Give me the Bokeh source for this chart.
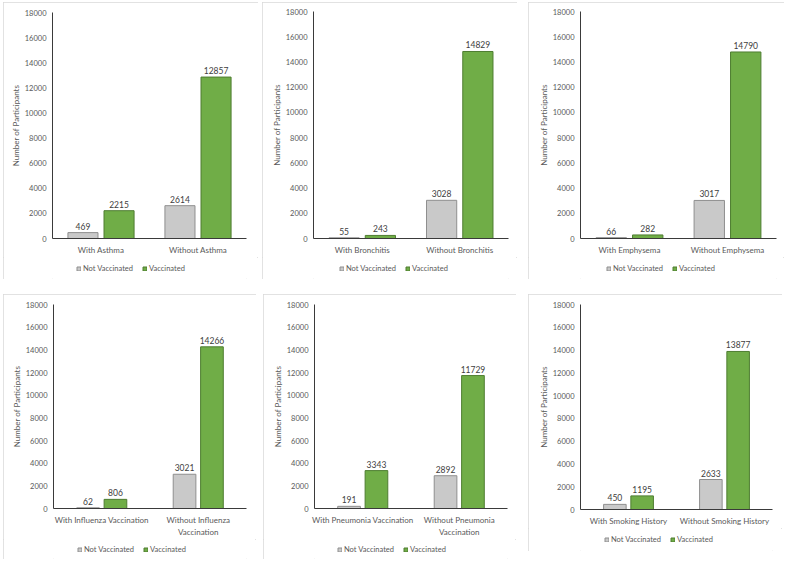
from bokeh.plotting import figure
from bokeh.models import ColumnDataSource, FactorRange, Range1d, FixedTicker, Legend, LegendItem
from bokeh.transform import dodge
from bokeh.layouts import row, column
from bokeh.core.properties import value
from bokeh.embed import file_html
from bokeh.resources import INLINE

FONT = "Lato"
GRAY_FILL = "#c9c9c9"
GRAY_EDGE = "#8f8f8f"
GREEN_FILL = "#70ad47"
GREEN_EDGE = "#4e7d31"
AXIS_TEXT = "#595959"
LABEL_TEXT = "#404040"

series_names = ["Not Vaccinated", "Vaccinated"]
y_ticks = [0, 2000, 4000, 6000, 8000, 10000, 12000, 14000, 16000, 18000]

asthma_groups = ["With Asthma", "Without Asthma"]
asthma_not_vacc = [469, 2614]
asthma_vacc = [2215, 12857]

bronchitis_groups = ["With Bronchitis", "Without Bronchitis"]
bronchitis_not_vacc = [55, 3028]
bronchitis_vacc = [243, 14829]

emphysema_groups = ["With Emphysema", "Without Emphysema"]
emphysema_not_vacc = [66, 3017]
emphysema_vacc = [282, 14790]

influenza_groups = ["With Influenza Vaccination", "Without Influenza\nVaccination"]
influenza_not_vacc = [62, 3021]
influenza_vacc = [806, 14266]

pneumonia_groups = ["With Pneumonia Vaccination", "Without Pneumonia\nVaccination"]
pneumonia_not_vacc = [191, 2892]
pneumonia_vacc = [3343, 11729]

smoking_groups = ["With Smoking History", "Without Smoking History"]
smoking_not_vacc = [450, 2633]
smoking_vacc = [1195, 13877]


def bar_chart(groups, not_vacc, vacc, width, height, borders, bar_w, offset):
    left, right, top, bottom = borders
    p = figure(
        width=width, height=height,
        x_range=FactorRange(factors=groups), y_range=Range1d(0, 18000),
        output_backend="svg", toolbar_location=None,
        min_border_left=left, min_border_right=right,
        min_border_top=top, min_border_bottom=bottom,
    )
    p.outline_line_color = None
    p.xgrid.visible = False
    p.ygrid.visible = False

    src = ColumnDataSource(dict(
        group=groups, nv=not_vacc, v=vacc,
        nv_lbl=[str(n) for n in not_vacc], v_lbl=[str(n) for n in vacc],
    ))
    x_nv = dodge("group", -offset, range=p.x_range)
    x_v = dodge("group", offset, range=p.x_range)
    p.vbar(x=x_nv, top="nv", width=bar_w, source=src,
           fill_color=GRAY_FILL, line_color=GRAY_EDGE, line_width=1)
    p.vbar(x=x_v, top="v", width=bar_w, source=src,
           fill_color=GREEN_FILL, line_color=GREEN_EDGE, line_width=1)

    # value labels above each bar
    for xs, col in ((x_nv, "nv"), (x_v, "v")):
        p.text(x=xs, y=col, text=col + "_lbl", source=src,
               text_align="center", text_baseline="bottom", y_offset=-3,
               text_font=value(FONT), text_font_size="8.5px", text_color=LABEL_TEXT)

    p.yaxis.ticker = FixedTicker(ticks=y_ticks)
    p.yaxis.axis_label = "Number of Participants"
    p.yaxis.axis_label_text_font = FONT
    p.yaxis.axis_label_text_font_size = "8px"
    p.yaxis.axis_label_text_font_style = "normal"
    p.yaxis.axis_label_text_color = AXIS_TEXT
    p.yaxis.axis_label_standoff = 1
    for ax in (p.xaxis[0], p.yaxis[0]):
        ax.axis_line_color = "#3a3a3a"
        ax.axis_line_width = 1
        ax.major_tick_line_color = None
        ax.minor_tick_line_color = None
        ax.major_tick_out = 0
        ax.major_tick_in = 0
        ax.minor_tick_out = 0
        ax.minor_tick_in = 0
        ax.major_label_text_font = FONT
        ax.major_label_text_color = AXIS_TEXT
    p.yaxis.major_label_text_font_size = "7.5px"
    p.yaxis.major_label_standoff = 6
    p.xaxis.major_label_text_font_size = "8px"
    p.xaxis.major_label_standoff = 6
    return p


def legend_strip(width, height, legend_x):
    # a bare strip holding the shared series legend under the chart
    lg = figure(width=width, height=height, x_range=Range1d(0, 1), y_range=Range1d(0, 1),
                output_backend="svg", toolbar_location=None,
                x_axis_type=None, y_axis_type=None,
                min_border_left=0, min_border_right=0,
                min_border_top=0, min_border_bottom=0)
    lg.outline_line_color = None
    lg.xgrid.visible = False
    lg.ygrid.visible = False
    # swatch renderers placed outside the visible ranges; only their legend glyphs show
    r_nv = lg.vbar(x=[-10], top=[-5], bottom=[-6], width=0.1,
                   fill_color=GRAY_FILL, line_color=GRAY_EDGE)
    r_v = lg.vbar(x=[-10], top=[-5], bottom=[-6], width=0.1,
                  fill_color=GREEN_FILL, line_color=GREEN_EDGE)
    legend = Legend(
        items=[LegendItem(label=series_names[0], renderers=[r_nv]),
               LegendItem(label=series_names[1], renderers=[r_v])],
        orientation="horizontal", location=(legend_x, (height - 9) // 2),
        glyph_width=5, glyph_height=5, label_height=8,
        label_standoff=2, spacing=9, padding=0, margin=0,
        border_line_color=None, background_fill_alpha=0,
        label_text_font=FONT, label_text_font_size="7.5px",
        label_text_color=AXIS_TEXT,
    )
    lg.add_layout(legend)
    return lg


def panel(chart, strip, margin):
    return column(chart, strip, spacing=0, margin=margin,
                  styles={"outline": "1px solid #d9d9d9", "outline-offset": "-1px"})


c1 = bar_chart(asthma_groups, asthma_not_vacc, asthma_vacc, 255, 255, (49, 12, 10, 18), 0.31, 0.186)
c2 = bar_chart(bronchitis_groups, bronchitis_not_vacc, bronchitis_vacc, 255, 255, (51, 9, 9, 19), 0.31, 0.186)
c3 = bar_chart(emphysema_groups, emphysema_not_vacc, emphysema_vacc, 256, 255, (52, 8, 9, 19), 0.31, 0.186)
c4 = bar_chart(influenza_groups, influenza_not_vacc, influenza_vacc, 253, 245, (50, 10, 10, 30), 0.235, 0.142)
c5 = bar_chart(pneumonia_groups, pneumonia_not_vacc, pneumonia_vacc, 253, 245, (51, 9, 10, 30), 0.235, 0.142)
c6 = bar_chart(smoking_groups, smoking_not_vacc, smoking_vacc, 254, 234, (52, 10, 10, 19), 0.235, 0.142)

top_row = row(panel(c1, legend_strip(255, 22, 24), (2, 0, 0, 3)),
              panel(c2, legend_strip(255, 22, 26), (2, 0, 0, 4)),
              panel(c3, legend_strip(256, 22, 26), (2, 0, 0, 11)), spacing=0)
bottom_row = row(panel(c4, legend_strip(253, 20, 24), (15, 0, 0, 3)),
                 panel(c5, legend_strip(253, 20, 23), (15, 0, 0, 7)),
                 panel(c6, legend_strip(254, 23, 24), (15, 0, 0, 12)), spacing=0)
layout = column(top_row, bottom_row, spacing=0)

with open("out.html", "w") as f:
    f.write(file_html(layout, INLINE))
